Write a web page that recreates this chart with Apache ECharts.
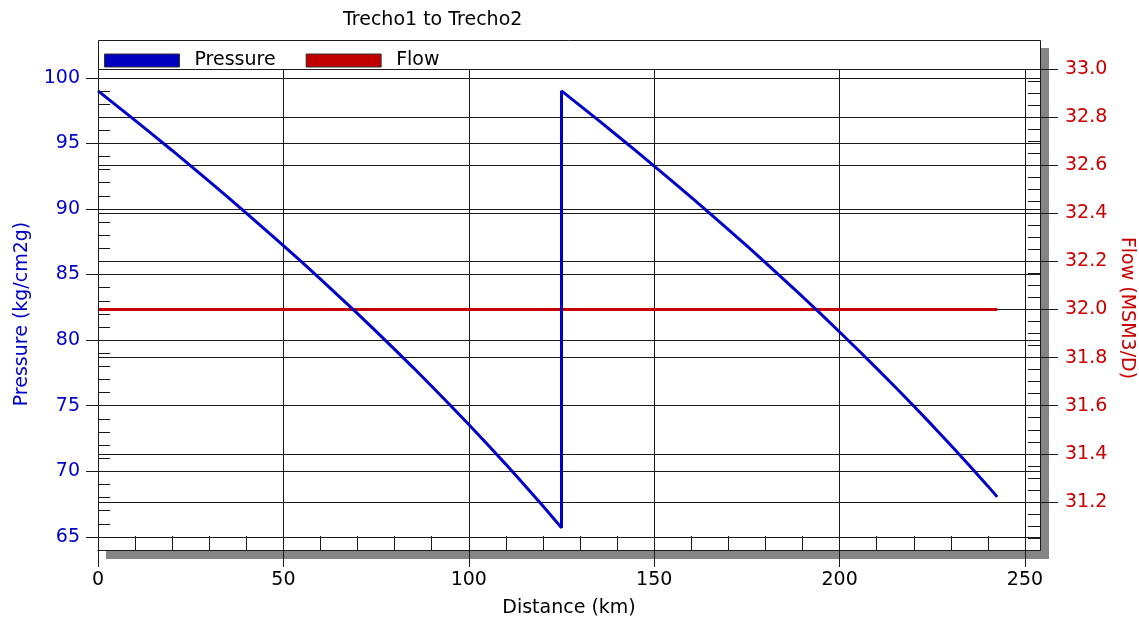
<!DOCTYPE html>
<html>
<head>
<meta charset="utf-8">
<script src="https://cdn.jsdelivr.net/npm/echarts@6/dist/echarts.min.js"></script>
<style>
  html, body { margin: 0; padding: 0; background: #fff; }
  #chart { width: 1139px; height: 623px; }
</style>
</head>
<body>
<div id="chart"></div>
<script>
// Pipeline profile, Trecho1 to Trecho2: pressure along the line (drops, then
// recompressed at 125 km) and the constant gas flow.
const distanceKm = [
  0, 5, 10, 15, 20, 25, 30, 35, 40, 45, 50, 55, 60, 65, 70, 75, 80, 85, 90, 95,
  100, 105, 110, 115, 120, 125,
  125, 130, 135, 140, 145, 150, 155, 160, 165, 170, 175, 180, 185, 190, 195,
  200, 205, 210, 215, 220, 225, 230, 235, 240, 242.5
];
const pressureKgCm2g = [
  99.00, 97.88, 96.75, 95.61, 94.46, 93.29, 92.10, 90.90, 89.69, 88.45,
  87.20, 85.94, 84.65, 83.34, 82.02, 80.67, 79.30, 77.91, 76.49, 75.04,
  73.57, 72.06, 70.53, 68.96, 67.35, 65.70,
  99.00, 97.88, 96.75, 95.60, 94.45, 93.27, 92.09, 90.88, 89.66, 88.43,
  87.18, 85.91, 84.62, 83.31, 81.98, 80.62, 79.25, 77.85, 76.43, 74.98,
  73.50, 71.99, 70.45, 68.87, 68.05
];
const flowDistanceKm = [0, 242.5];
const flowMsm3d = [32.0, 32.0];

// axis scales: labelled step and the finer step of the small inner ticks
const distanceMin = 0, distanceMax = 250, distanceStep = 50, distanceMinorStep = 10;
const pressureMin = 65, pressureMax = 100, pressureStep = 5, pressureMinorStep = 1;
const flowMin = 31.0, flowMax = 33.0, flowStep = 0.2, flowMinorStep = 0.05;

const seriesNames = ['Pressure', 'Flow'];
const titleText = 'Trecho1 to Trecho2';
const distanceName = 'Distance (km)';
const pressureName = 'Pressure (kg/cm2g)';
const flowName = 'Flow (MSM3/D)';

// ---- layout (pixels) ----
const FONT = 'DejaVu Sans, Verdana, sans-serif';
const BLUE = '#0000c8';
const RED = '#c80000';
const INK = '#1a1a1a';
const boxLeft = 98, boxRight = 1040, boxTop = 40, boxBottom = 550;
const plotTop = 69;                 // top of the gridded area, under the legend strip
const x250 = 1025;                  // pixel of the last labelled distance
const pxPerKm = (x250 - boxLeft) / (distanceMax - distanceMin);
const fullWidthKm = (boxRight - boxLeft) / pxPerKm;
const pTopPx = 77.8, pBottomPx = 536.9;   // pressure 100 and 65

const tickLine = { color: INK, width: 1 };

function distGrid() { return { left: boxLeft, top: plotTop, width: x250 - boxLeft, height: boxBottom - plotTop, outerBoundsMode: 'none' }; }
function presGrid() { return { left: boxLeft, top: pTopPx, width: boxRight - boxLeft, height: pBottomPx - pTopPx, outerBoundsMode: 'none' }; }
function flowGrid() { return { left: boxLeft, top: plotTop, width: boxRight - boxLeft, height: boxBottom - plotTop, outerBoundsMode: 'none' }; }

// Placeholder axis for a grid's unused dimension
function hiddenAxis(gridIndex, max) {
  return { gridIndex: gridIndex, type: 'value', min: 0, max: max, show: false, axisLine: { onZero: false } };
}

// Axis drawing only the short inward ticks at the fine step
function innerTicks(position, min, max, step, length, gridIndex) {
  return {
    gridIndex: gridIndex, type: 'value', position: position,
    min: min, max: max, interval: step,
    axisLine: { show: false, onZero: false },
    axisTick: { show: true, inside: true, length: length, lineStyle: tickLine },
    minorTick: { show: false },
    axisLabel: { show: false },
    splitLine: { show: false },
    minorSplitLine: { show: false }
  };
}

const chart = echarts.init(document.getElementById('chart'), null, { renderer: 'canvas' });

chart.setOption({
  animation: false,
  backgroundColor: '#fff',
  title: {
    text: titleText,
    left: 343,
    top: 11,
    padding: 0,
    textStyle: { fontFamily: FONT, fontSize: 19, fontWeight: 'normal', color: '#000' }
  },
  legend: {
    data: seriesNames,
    left: 104,
    top: 51,
    padding: 0,
    icon: 'rect',
    itemWidth: 75,
    itemHeight: 13,
    itemGap: 30,
    selectedMode: false,
    itemStyle: { borderColor: '#333', borderWidth: 1 },
    textStyle: { fontFamily: FONT, fontSize: 19, color: '#000', padding: [0, 0, 0, 10] }
  },
  grid: [distGrid(), presGrid(), flowGrid(), distGrid(), presGrid(), flowGrid()],
  xAxis: [
    {
      gridIndex: 0, type: 'value', position: 'bottom',
      min: distanceMin, max: distanceMax, interval: distanceStep,
      axisLine: { show: true, onZero: false, lineStyle: tickLine },
      axisTick: { show: true, length: 17, lineStyle: tickLine },
      minorTick: { show: false },
      axisLabel: { show: true, margin: 21, fontFamily: FONT, fontSize: 19, color: '#000' },
      splitLine: { show: true, lineStyle: tickLine },
      minorSplitLine: { show: false }
    },
    hiddenAxis(1, fullWidthKm),
    hiddenAxis(2, fullWidthKm),
    innerTicks('bottom', distanceMin, distanceMax, distanceMinorStep, 14, 3),
    hiddenAxis(4, fullWidthKm),
    hiddenAxis(5, fullWidthKm)
  ],
  yAxis: [
    hiddenAxis(0, 1),
    {
      gridIndex: 1, type: 'value', position: 'left',
      min: pressureMin, max: pressureMax, interval: pressureStep,
      axisLine: { show: false, onZero: false },
      axisTick: { show: true, length: 12, lineStyle: tickLine },
      minorTick: { show: false },
      axisLabel: { show: true, margin: 18, fontFamily: FONT, fontSize: 19, color: BLUE },
      splitLine: { show: true, lineStyle: tickLine },
      minorSplitLine: { show: false }
    },
    {
      gridIndex: 2, type: 'value', position: 'right',
      min: flowMin, max: flowMax, interval: flowStep,
      axisLine: { show: false, onZero: false },
      axisTick: { show: true, length: 18, lineStyle: tickLine },
      minorTick: { show: false },
      axisLabel: {
        show: true, margin: 25, fontFamily: FONT, fontSize: 19, color: RED,
        showMinLabel: false,
        formatter: v => Number(v).toFixed(1)
      },
      splitLine: { show: true, lineStyle: tickLine },
      minorSplitLine: { show: false }
    },
    hiddenAxis(3, 1),
    innerTicks('left', pressureMin, pressureMax, pressureMinorStep, 12, 4),
    innerTicks('right', flowMin, flowMax, flowMinorStep, 12, 5)
  ],
  series: [
    {
      name: seriesNames[0], type: 'line', xAxisIndex: 1, yAxisIndex: 1,
      data: distanceKm.map((d, i) => [d, pressureKgCm2g[i]]),
      symbol: 'none', showSymbol: false, z: 6,
      lineStyle: { color: BLUE, width: 3 },
      itemStyle: { color: '#0000c0' }
    },
    {
      name: seriesNames[1], type: 'line', xAxisIndex: 2, yAxisIndex: 2,
      data: flowDistanceKm.map((d, i) => [d, flowMsm3d[i]]),
      symbol: 'none', showSymbol: false, z: 5,
      lineStyle: { color: RED, width: 3 },
      itemStyle: { color: '#c00000' }
    }
  ],
  graphic: [
    // drop shadow behind the chart frame
    { type: 'rect', z: -10, silent: true,
      shape: { x: boxLeft + 8, y: boxTop + 8, width: boxRight - boxLeft + 1, height: boxBottom - boxTop + 1 },
      style: { fill: '#858585' } },
    { type: 'rect', z: -9, silent: true,
      shape: { x: boxLeft, y: boxTop, width: boxRight - boxLeft, height: boxBottom - boxTop },
      style: { fill: '#fff' } },
    // frame around legend strip and plot
    { type: 'rect', z: 20, silent: true,
      shape: { x: boxLeft + 0.5, y: boxTop + 0.5, width: boxRight - boxLeft, height: boxBottom - boxTop },
      style: { fill: null, stroke: INK, lineWidth: 1 } },
    // axis titles
    { type: 'text', x: 569, y: 608, silent: true,
      style: { text: distanceName, fill: '#000', font: '19px ' + FONT, align: 'center', verticalAlign: 'middle' } },
    { type: 'text', x: 22, y: 314, rotation: Math.PI / 2, silent: true,
      style: { text: pressureName, fill: BLUE, font: '19px ' + FONT, align: 'center', verticalAlign: 'middle' } },
    { type: 'text', x: 1127, y: 308, rotation: -Math.PI / 2, silent: true,
      style: { text: flowName, fill: RED, font: '19px ' + FONT, align: 'center', verticalAlign: 'middle' } }
  ]
});
</script>
</body>
</html>
